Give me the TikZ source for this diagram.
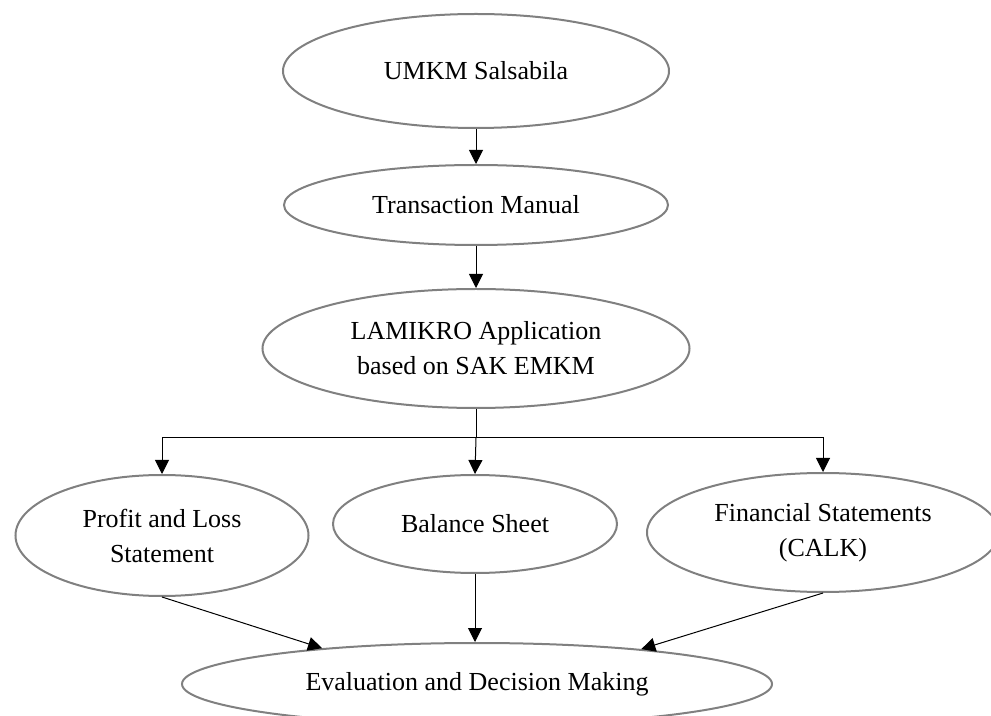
\documentclass[tikz,border=0pt]{standalone}
\usepackage{fontspec}
\setmainfont{Liberation Serif}
\usetikzlibrary{arrows.meta,positioning,shapes.geometric}

\begin{document}
\begin{tikzpicture}[x=0.5pt,y=-0.5pt,
    every node/.style={font=\fontsize{13}{17.5}\selectfont, align=center},
    oval/.style n args={2}{ellipse, draw=black!50, line width=1pt, inner sep=0pt,
      minimum width=#1*1pt, minimum height=#2*1pt},
    arr/.style={-{Triangle[length=7pt,width=7pt]}, line width=0.5pt}]
  \clip (0,0) rectangle (991,716);
  % top column
  \node[oval={193}{57}] (umkm) at (476,71) {UMKM Salsabila};
  \node[oval={192}{40}] (trans) at (476,205) {Transaction Manual};
  \node[oval={213.5}{59.5}] (lamikro) at (476,348.5) {LAMIKRO Application\\based on SAK EMKM};
  % reports
  \node[oval={146.5}{60.5}] (profit) at (162,535.5) {Profit and Loss\\Statement};
  \node[oval={142}{49}] (balance) at (475,524) {Balance Sheet};
  \node[oval={176}{59.5}] (calk) at (823,532.5) {Financial Statements\\(CALK)};
  \node[oval={295}{41}] (eval) at (477,684) {Evaluation and Decision Making};

  \draw[arr] (umkm) -- (trans);
  \draw[arr] (trans) -- (lamikro);
  \draw (lamikro.south) -- ++(0,29) coordinate (split);
  \draw[arr] (split) -| (profit.north);
  \draw[arr] (split) -- (balance.north);
  \draw[arr] (split) -| (calk.north);
  \draw[arr] (profit.south) -- (eval.167);
  \draw[arr] (balance.south) -- (eval.north -| balance.south);
  \draw[arr] (calk.south) -- (eval.12);
\end{tikzpicture}
\end{document}
